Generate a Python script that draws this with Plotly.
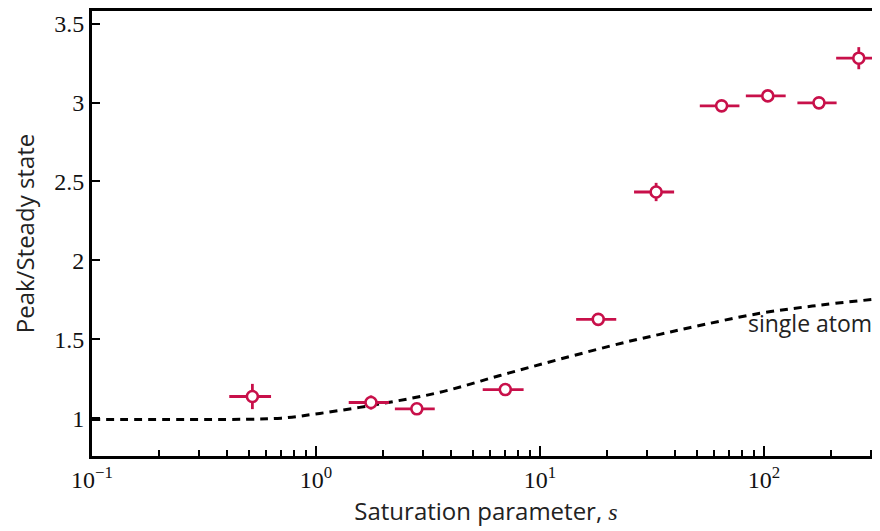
import plotly.graph_objects as go

# Data
s_vals = [0.52, 1.76, 2.82, 7.0, 18.2, 33.0, 64.7, 104.0, 176.0, 265.0]
ratio = [1.137, 1.099, 1.059, 1.181, 1.626, 2.433, 2.979, 3.042, 2.998, 3.281]
s_err = [0.11, 0.36, 0.57, 1.45, 3.7, 6.7, 13.0, 21.0, 35.0, 55.0]
ratio_err = [0.08, 0.045, 0.02, 0.02, 0.02, 0.058, 0.025, 0.025, 0.025, 0.07]

theory_s = [0.1, 0.3, 0.5, 0.7, 1.04, 1.93, 3.58, 6.63, 12.3, 24.4, 34.3, 46.5, 95.9, 178.0, 319.0, 340.0]
theory_r = [0.992, 0.992, 0.993, 1.0, 1.03, 1.09, 1.164, 1.27, 1.374, 1.483, 1.531, 1.573, 1.664, 1.716, 1.755, 1.759]

x_tickvals = [0.1, 1, 10, 100]
x_ticktext = ["10<sup>−1</sup>", "10<sup>0</sup>", "10<sup>1</sup>", "10<sup>2</sup>"]
x_minor = [m * d for d in (0.1, 1, 10, 100) for m in range(2, 10)]
y_tickvals = [1, 1.5, 2, 2.5, 3, 3.5]
y_ticktext = ["1", "1.5", "2", "2.5", "3", "3.5"]

red = "#C8104A"
serif = "Liberation Serif"
sans = "Open Sans"

fig = go.Figure()
fig.add_trace(go.Scatter(
    x=theory_s, y=theory_r, mode="lines",
    line=dict(color="black", width=3, dash="8px,6px", shape="spline"),
    showlegend=False, hoverinfo="skip"))
fig.add_trace(go.Scatter(
    x=s_vals, y=ratio, mode="markers",
    marker=dict(symbol="circle", size=11, color="white",
                line=dict(color=red, width=2.6)),
    error_x=dict(type="data", array=s_err, color=red, thickness=2.8, width=0),
    error_y=dict(type="data", array=ratio_err, color=red, thickness=2.8, width=0),
    showlegend=False))

fig.add_annotation(x=1.918, y=1.60, xref="x", yref="y", text="single atom",
                   showarrow=False, xanchor="left", yanchor="middle",
                   font=dict(family=sans, size=23, color="#222222"))

fig.update_layout(
    width=880, height=531,
    margin=dict(l=84, r=8, t=0, b=83),
    paper_bgcolor="white", plot_bgcolor="white",
    showlegend=False,
)
fig.update_xaxes(
    type="log", range=[-1, 2.518],
    tickmode="array", tickvals=x_tickvals, ticktext=x_ticktext,
    ticks="inside", ticklen=10, tickwidth=2, tickcolor="black",
    minor=dict(tickmode="array", tickvals=x_minor, ticks="inside",
               ticklen=6, tickwidth=2, tickcolor="black", showgrid=False),
    showline=True, linewidth=3, linecolor="black", mirror=True,
    showgrid=False, zeroline=False,
    tickfont=dict(family=serif, size=24, color="#111111"),
    title=dict(text="Saturation parameter, <span style=\"font-family:Liberation Serif\"><i>s</i></span>",
               font=dict(family=sans, size=24, color="#222222"), standoff=12),
)
fig.update_yaxes(
    range=[0.76, 3.58],
    tickmode="array", tickvals=y_tickvals, ticktext=y_ticktext,
    ticks="inside", ticklen=8, tickwidth=2, tickcolor="black",
    showline=True, linewidth=3, linecolor="black", mirror=False,
    showgrid=False, zeroline=False,
    tickfont=dict(family=serif, size=24, color="#111111"),
    title=dict(text="Peak/Steady state",
               font=dict(family=sans, size=24, color="#222222"), standoff=29),
)

fig.write_html("out.html")
